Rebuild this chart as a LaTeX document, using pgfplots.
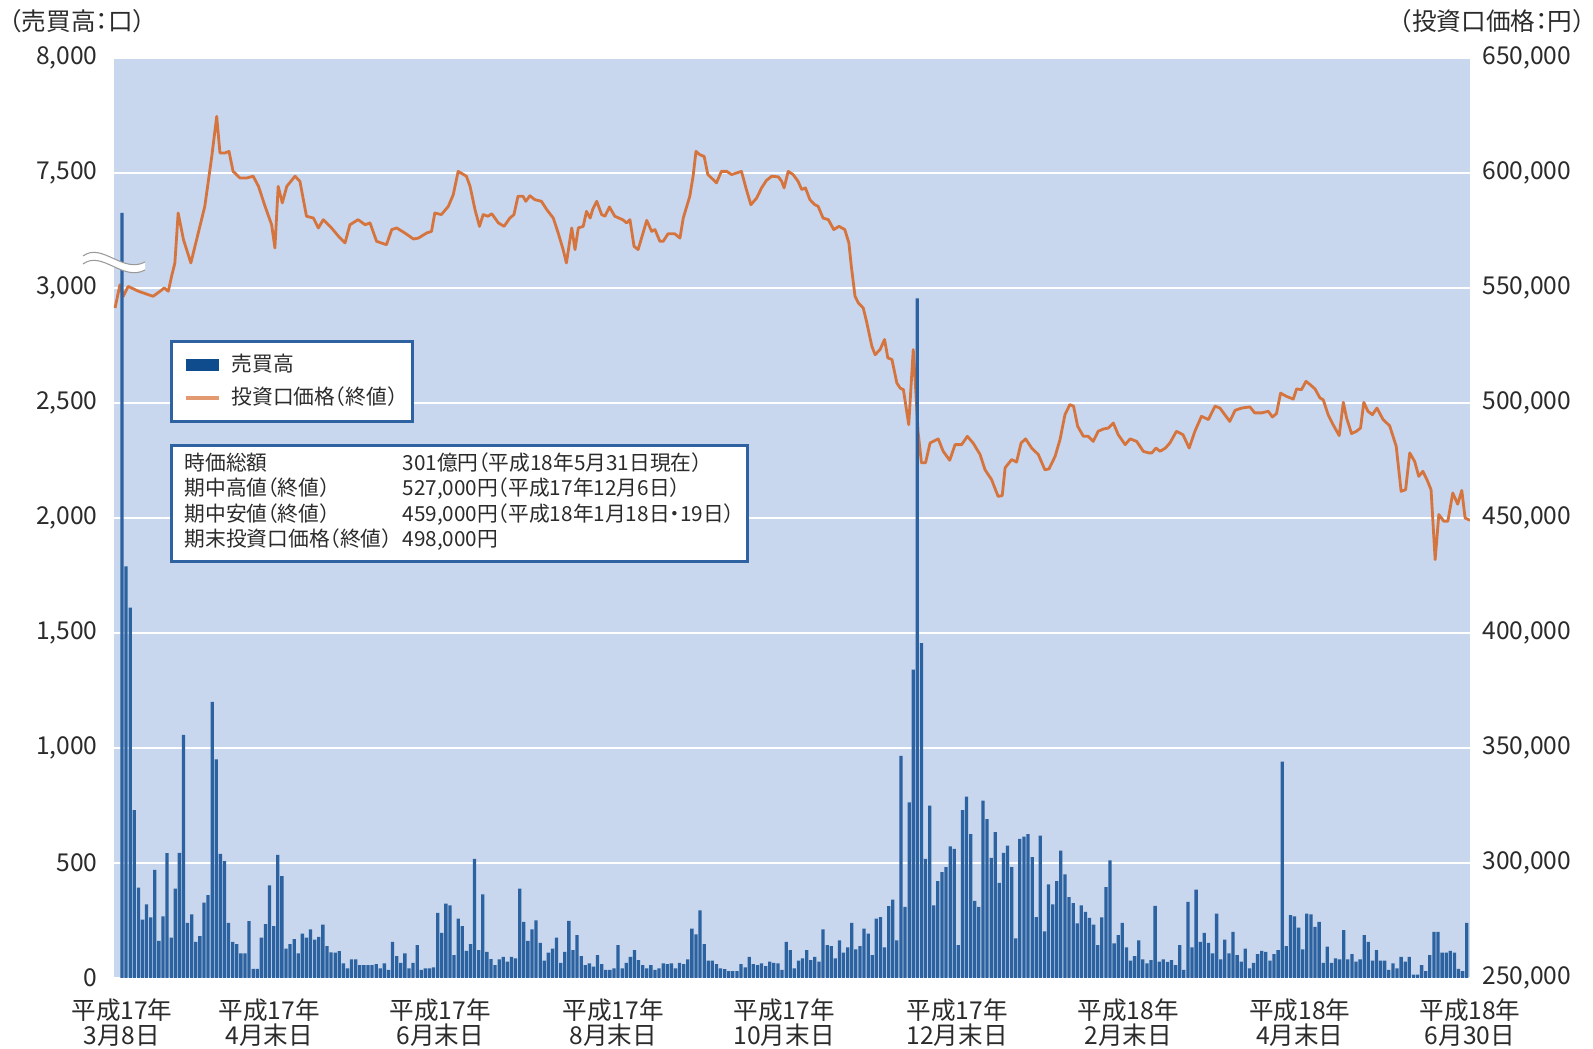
\documentclass[border=0pt]{standalone}
\usepackage{pgfplots}
\pgfplotsset{compat=1.18}
\usepackage{fontspec}
\setmainfont{Noto Sans CJK JP}[RawFeature={+halt}]

\definecolor{PlotBg}{HTML}{C8D6EE}
\definecolor{BarBlue}{HTML}{2C62A0}
\definecolor{SwatchBlue}{HTML}{0E4C8E}
\definecolor{PriceOrange}{HTML}{D6743E}
\definecolor{SwatchOrange}{HTML}{E49A70}
\definecolor{FrameBlue}{HTML}{2F62A0}
\definecolor{Ink}{HTML}{2B2B2B}

\newcommand\tickfont{\fontsize{7}{7.3}\selectfont}
\newcommand\infofont{\fontsize{5.9}{7.25}\selectfont}

\begin{document}
\begin{tikzpicture}
\path[use as bounding box] (-11.4mm,-7.1mm) rectangle (147.9mm,97.8mm);

% price axis (right), drawn first: background, grid and line
\begin{axis}[
  at={(0,0)}, anchor=south west,
  width=135.6mm, height=92.0mm, scale only axis,
  xmin=-1.95, xmax=328.8,
  ymin=250000, ymax=650000,
  scaled y ticks=false,
  xtick=\empty,
  ytick={250000,300000,350000,400000,450000,500000,550000,600000,650000},
  yticklabels={{250,000},{300,000},{350,000},{400,000},{450,000},{500,000},{550,000},{600,000},{650,000}},
  yticklabel pos=right,
  yticklabel style={font=\tickfont, text=Ink, xshift=0mm},
  major tick length=0pt,
  axis line style={draw=none},
  axis background/.style={fill=PlotBg},
  ymajorgrids, grid style={white, line width=0.8pt},
  every axis y label/.style={at={(1.0850,1.040)}, anchor=east, inner sep=0pt, font=\tickfont, text=Ink},
  ylabel={（投資口価格：円）},
  legend style={at={(0.0413,0.6935)}, anchor=north west,
    draw=FrameBlue, line width=0.9pt, fill=white,
    font=\infofont, text=Ink,
    inner xsep=0.8mm, inner ysep=0.5mm, row sep=-0.4mm},
  legend cell align=left,
]
\addlegendimage{legend image code/.code={\draw[line width=3.4pt, SwatchBlue] (0mm,0mm) -- (3.3mm,0mm);}}
\addlegendentry{売買高}
\addplot[PriceOrange, line width=0.8pt, line join=round,
  legend image code/.code={\draw[line width=1pt, SwatchOrange] (0mm,0mm) -- (3.3mm,0mm);}]
coordinates {
(-1.7,541300) (-0.5,551400) (0.3,546400) (1.5,550700) (4.0,548600) (6.4,547100)
(7.6,546400) (9.3,548600) (10.3,550000) (11.3,548600) (12.1,555100) (12.9,560900)
(13.7,582600) (15.0,571000) (16.8,560900) (18.6,573900) (20.2,585500) (21.9,607200)
(23.1,624600) (23.9,608700) (25.1,608700) (26.1,609400) (27.1,600700) (28.8,597800)
(30.4,597800) (32.0,598600) (33.3,594200) (34.9,585500) (36.5,577500) (37.3,567400)
(38.1,594200) (39.1,587000) (40.2,594200) (42.2,598600) (43.4,596400) (45.0,581200)
(46.7,580400) (47.9,576100) (49.1,579700) (51.1,576100) (52.8,572500) (54.4,569600)
(55.6,577500) (57.6,579700) (59.3,577500) (60.5,578300) (62.1,570300) (64.5,568800)
(65.8,575400) (67.0,576100) (69.0,573900) (71.1,571300) (72.3,571700) (74.3,573900)
(75.5,574600) (76.3,582600) (77.9,581900) (79.6,585500) (80.8,590600) (82.0,600700)
(84.0,598600) (84.9,594200) (86.1,584100) (87.2,576800) (88.1,581900) (89.3,581200)
(90.2,582300) (91.8,578300) (93.2,576800) (94.6,580400) (95.6,581900) (96.6,589900)
(97.8,589900) (98.5,587700) (99.5,590100) (100.7,588400) (102.3,587700) (103.6,584100)
(105.2,580400) (106.4,573900) (107.6,566700) (108.4,560900) (109.7,576100) (110.5,566700)
(111.3,576100) (112.5,576800) (113.3,583300) (114.2,580400) (114.8,584100) (115.8,587700)
(117.0,581900) (117.8,581200) (118.9,585200) (120.2,581200) (122.1,579700) (123.1,578300)
(123.9,579700) (124.9,568100) (125.9,566700) (128.0,579400) (129.2,574600) (130.0,575400)
(131.2,570300) (132.0,570300) (133.2,573600) (134.8,573600) (136.1,571700) (136.9,580400)
(138.5,589900) (139.3,598600) (140.0,609400) (140.9,608000) (142.0,607200) (142.9,599300)
(143.8,597800) (145.0,595700) (146.2,600700) (147.5,600700) (148.7,599300) (149.9,600000)
(151.1,600700) (152.3,592800) (153.4,586200) (154.8,589100) (156.0,593500) (157.2,596800)
(158.5,598600) (160.1,598300) (160.9,596400) (161.5,593500) (162.5,600700) (163.7,599300)
(164.9,596400) (165.8,592800) (166.7,593500) (167.8,588400) (169.0,586200) (169.8,585500)
(171.0,580400) (172.3,579700) (173.6,575400) (174.9,576800) (176.3,575400) (177.3,569600)
(177.9,559400) (178.8,546400) (179.6,543500) (180.8,541300) (181.6,535500) (182.9,524700)
(183.7,521000) (184.9,523200) (186.0,527600) (186.8,519600) (187.8,518900) (189.0,508700)
(189.8,506500) (190.6,505800) (191.9,490600) (193.0,523200) (193.6,505800) (194.2,487000)
(195.0,474000) (196.0,474000) (197.1,482600) (199.1,484400) (200.3,479000) (201.9,475100)
(203.2,481900) (204.8,481900) (206.2,485500) (207.6,482600) (209.3,477600) (210.5,471000)
(212.1,466700) (213.7,459400) (214.7,459700) (215.4,471800) (217.0,475400) (218.2,474300)
(219.3,482600) (220.4,484400) (221.9,480400) (223.5,477600) (225.1,471000) (226.1,471300)
(227.6,476800) (228.8,484100) (230.0,494900) (231.2,499300) (232.1,498600) (233.1,489900)
(234.5,485500) (235.7,485500) (236.9,483300) (238.1,487700) (239.4,488700) (240.6,489100)
(241.8,491300) (243.0,486200) (244.7,481900) (245.9,484400) (247.5,483300) (249.1,479000)
(250.4,478300) (251.2,478300) (252.2,480400) (253.2,479000) (254.5,480400) (255.6,482600)
(257.2,487700) (258.8,486200) (260.3,480400) (261.7,487700) (263.3,494200) (265.0,492800)
(266.6,498600) (267.8,497800) (269.0,494900) (270.2,492000) (271.5,496800) (273.1,497800)
(275.1,498300) (276.3,495700) (278.0,495700) (279.6,496400) (280.6,493900) (281.6,495400)
(282.6,504300) (284.0,502900) (285.7,501700) (286.5,506100) (287.7,505800) (288.8,509400)
(289.8,508000) (291.0,506100) (292.2,502200) (293.0,501400) (294.2,494900) (295.4,490600)
(296.9,485800) (297.9,500300) (298.7,493500) (299.9,486700) (301.1,487700) (302.1,489100)
(302.9,500300) (303.9,496400) (305.0,494900) (306.1,497800) (307.6,492800) (309.2,490100)
(310.8,481200) (312.0,461600) (313.1,462300) (314.1,478300) (315.3,474600) (316.3,468100)
(317.3,470300) (318.3,466700) (319.3,462300) (320.3,431900) (321.2,451500) (322.4,448600)
(323.4,448600) (324.6,460900) (325.8,456000) (326.8,462000) (327.6,450000) (328.8,449000)
};
\addlegendentry{投資口価格（終値）}
\end{axis}

% volume axis (left), broken above 3,000: 3,000-7,500 squeezed into one step
\begin{axis}[
  at={(0,0)}, anchor=south west,
  width=135.6mm, height=92.0mm, scale only axis,
  xmin=-1.95, xmax=328.8,
  ymin=0, ymax=4000,
  ytick={0,500,1000,1500,2000,2500,3000,3500,4000},
  yticklabels={0,500,{1,000},{1,500},{2,000},{2,500},{3,000},{7,500},{8,000}},
  yticklabel style={font=\tickfont, text=Ink, xshift=-0.4mm},
  xtick={0,35.9,77.6,119.8,161.5,203.7,245.4,287.3,328.8},
  xticklabels={{平成17年\\3月8日},{平成17年\\4月末日},{平成17年\\6月末日},{平成17年\\8月末日},{平成17年\\10月末日},{平成17年\\12月末日},{平成18年\\2月末日},{平成18年\\4月末日},{平成18年\\6月30日}},
  xticklabel style={font=\tickfont, text=Ink, align=center, yshift=-0.8mm},
  major tick length=0pt,
  axis line style={draw=none},
  every axis y label/.style={at={(-0.0775,1.040)}, anchor=west, inner sep=0pt, font=\tickfont, text=Ink},
  ylabel={（売買高：口）},
  y filter/.expression={y>3000 ? 3000+(y-3000)/9 : y},
]
\addplot[ybar, bar width=0.8, fill=BarBlue, draw=none] coordinates {
(0,5940) (1,1790) (2,1610) (3,730) (4,393) (5,254) (6,320) (7,263) (8,470) (9,161)
(10,268) (11,543) (12,175) (13,388) (14,544) (15,1057) (16,240) (17,277) (18,157) (19,182)
(20,328) (21,360) (22,1201) (23,951) (24,540) (25,508) (26,240) (27,157) (28,147) (29,107)
(30,107) (31,247) (32,40) (33,40) (34,176) (35,234) (36,403) (37,225) (38,535) (39,443)
(40,128) (41,147) (42,169) (43,107) (44,193) (45,175) (46,211) (47,167) (48,179) (49,232)
(50,138) (51,111) (52,110) (53,117) (54,63) (55,42) (56,81) (57,81) (58,56) (59,56)
(60,56) (61,56) (62,60) (63,42) (64,63) (65,35) (66,157) (67,95) (68,66) (69,107)
(70,42) (71,66) (72,143) (73,35) (74,42) (75,42) (76,46) (77,283) (78,196) (79,323)
(80,316) (81,99) (82,258) (83,225) (84,118) (85,147) (86,518) (87,121) (88,364) (89,114)
(90,82) (91,56) (92,81) (93,92) (94,71) (95,92) (96,85) (97,388) (98,244) (99,161)
(100,211) (101,251) (102,153) (103,75) (104,110) (105,128) (106,176) (107,66) (108,114) (109,248)
(110,121) (111,186) (112,95) (113,56) (114,63) (115,49) (116,99) (117,60) (118,35) (119,35)
(120,42) (121,143) (122,42) (123,66) (124,92) (125,121) (126,78) (127,56) (128,42) (129,56)
(130,35) (131,42) (132,63) (133,60) (134,63) (135,42) (136,66) (137,60) (138,81) (139,215)
(140,190) (141,294) (142,147) (143,75) (144,75) (145,60) (146,42) (147,38) (148,30) (149,30)
(150,30) (151,60) (152,46) (153,92) (154,60) (155,56) (156,63) (157,52) (158,71) (159,66)
(160,63) (161,35) (162,157) (163,121) (164,42) (165,75) (166,85) (167,121) (168,78) (169,92)
(170,71) (171,211) (172,143) (173,138) (174,85) (175,164) (176,110) (177,133) (178,240) (179,124)
(180,138) (181,215) (182,193) (183,99) (184,258) (185,265) (186,133) (187,312) (188,341) (189,164)
(190,966) (191,309) (192,764) (193,1341) (194,2955) (195,1456) (196,518) (197,749) (198,316) (199,421)
(200,460) (201,482) (202,572) (203,561) (204,143) (205,730) (206,788) (207,626) (208,335) (209,309)
(210,771) (211,691) (212,522) (213,634) (214,413) (215,544) (216,576) (217,482) (218,172) (219,605)
(220,615) (221,626) (222,525) (223,265) (224,619) (225,203) (226,407) (227,320) (228,421) (229,554)
(230,450) (231,352) (232,326) (233,237) (234,316) (235,287) (236,261) (237,232) (238,143) (239,263)
(240,395) (241,511) (242,150) (243,186) (244,240) (245,133) (246,75) (247,95) (248,164) (249,81)
(250,63) (251,78) (252,313) (253,71) (254,81) (255,70) (256,78) (257,56) (258,143) (259,35)
(260,331) (261,133) (262,384) (263,157) (264,196) (265,153) (266,107) (267,280) (268,81) (269,167)
(270,107) (271,200) (272,99) (273,71) (274,128) (275,42) (276,66) (277,104) (278,118) (279,114)
(280,75) (281,104) (282,121) (283,941) (284,138) (285,273) (286,268) (287,219) (288,124) (289,280)
(290,277) (291,222) (292,244) (293,66) (294,136) (295,66) (296,85) (297,81) (298,208) (299,81)
(300,104) (301,71) (302,81) (303,186) (304,157) (305,75) (306,121) (307,75) (308,75) (309,35)
(310,63) (311,42) (312,92) (313,71) (314,92) (315,15) (316,15) (317,56) (318,30) (319,99)
(320,200) (321,200) (322,110) (323,110) (324,118) (325,110) (326,40) (327,30) (328,240)
};
\end{axis}

% axis break mark on the left edge
\fill[white] (-3.1mm,72.2mm) .. controls (-1.2mm,73.6mm) and (0.9mm,70.4mm) .. (3.1mm,71.6mm)
  -- (3.1mm,70.8mm) .. controls (0.9mm,69.6mm) and (-1.2mm,72.8mm) .. (-3.1mm,71.4mm) -- cycle;
\draw[gray!80, line width=0.3pt] (-3.1mm,72.2mm) .. controls (-1.2mm,73.6mm) and (0.9mm,70.4mm) .. (3.1mm,71.6mm);
\draw[gray!80, line width=0.3pt] (-3.1mm,71.4mm) .. controls (-1.2mm,72.8mm) and (0.9mm,69.6mm) .. (3.1mm,70.8mm);

% summary box
\node[anchor=north west, draw=FrameBlue, line width=0.9pt, fill=white,
  inner xsep=1.3mm, inner ysep=0.7mm, font=\infofont, text=Ink] at (5.6mm,53.4mm) {%
\begin{tabular}{@{}p{21.8mm}@{}l@{}}
時価総額 & 301億円（平成18年5月31日現在）\\
期中高値（終値） & 527,000円（平成17年12月6日）\\
期中安値（終値） & 459,000円（平成18年1月18日・19日）\\
期末投資口価格（終値） & 498,000円
\end{tabular}};
\end{tikzpicture}
\end{document}
